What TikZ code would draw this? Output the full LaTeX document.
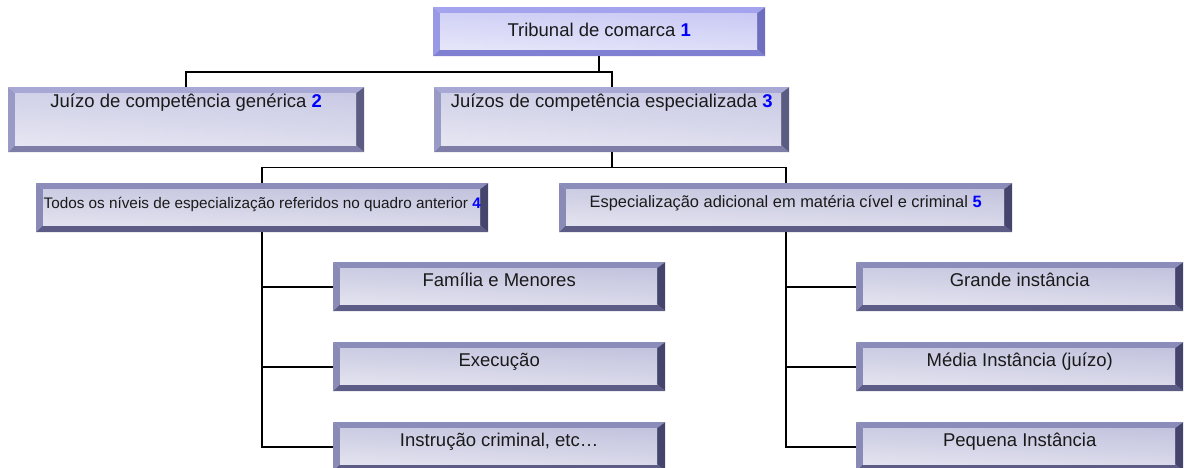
\documentclass[tikz,border=0pt]{standalone}
\usepackage{fontspec}
\setmainfont{Liberation Sans}
\usetikzlibrary{calc}
% variant A: top box (bluish)
\definecolor{aT}{HTML}{A4A4EE}\definecolor{aL}{HTML}{9898E4}\definecolor{aB}{HTML}{8080D2}\definecolor{aR}{HTML}{6E6EBE}\definecolor{aF}{HTML}{BCBCF2}
% variant B: second row
\definecolor{bT}{HTML}{A8A8D4}\definecolor{bL}{HTML}{9A9AC6}\definecolor{bB}{HTML}{7E7EA8}\definecolor{bR}{HTML}{5C5C82}\definecolor{bF}{HTML}{BCBCDE}
% variant C: lower rows
\definecolor{cT}{HTML}{8C8CBA}\definecolor{cL}{HTML}{8A8AB6}\definecolor{cB}{HTML}{5C5C86}\definecolor{cR}{HTML}{44446C}\definecolor{cF}{HTML}{B4B4D6}
\definecolor{txt}{HTML}{1A1A1A}
\newcommand\bevelfill[1]{%
  \coordinate (bNW) at (path picture bounding box.north west);
  \coordinate (bNE) at (path picture bounding box.north east);
  \coordinate (bSW) at (path picture bounding box.south west);
  \coordinate (bSE) at (path picture bounding box.south east);
  \coordinate (iNW) at ($(bNW)+(7pt,-6pt)$);
  \coordinate (iNE) at ($(bNE)+(-8pt,-6pt)$);
  \coordinate (iSW) at ($(bSW)+(7pt,7pt)$);
  \coordinate (iSE) at ($(bSE)+(-8pt,7pt)$);
  \fill[#1T] (bNW) -- (bNE) -- (iNE) -- (iNW) -- cycle;
  \fill[#1L] (bNW) -- (bSW) -- (iSW) -- (iNW) -- cycle;
  \fill[#1B] (bSW) -- (bSE) -- (iSE) -- (iSW) -- cycle;
  \fill[#1R] (bNE) -- (bSE) -- (iSE) -- (iNE) -- cycle;
  \shade[left color=#1F!75!white, middle color=white, right color=#1F] (iNW) rectangle (iSE);
  \shade[top color=#1F!60!white, bottom color=white, opacity=0.5] (iNW) rectangle (iSE);
}
\tikzset{
  bevelbox/.style={fill=white, inner xsep=0pt, inner ysep=0pt, anchor=north west,
    text=txt, path picture={\bevelfill{#1}}},
  lnk/.style={draw=black, line width=1.8pt},
}
\newcommand\num[1]{\textcolor{blue}{\textbf{#1}}}
\newcommand\fsA{\fontsize{18.5}{20}\selectfont}
\begin{document}
\begin{tikzpicture}[x=1pt,y=-1pt]
\useasboundingbox (0,0) rectangle (1185,468);
% level 1
\node[bevelbox=a, minimum width=332pt, text height=29pt, text depth=20pt] (b1) at (433,7) {\fsA Tribunal de comarca \num{1}};
% level 2
\node[bevelbox=b, minimum width=356pt, text height=20pt, text depth=45pt] (b2) at (8,87) {\fsA Juízo de competência genérica \num{2}};
\node[bevelbox=b, minimum width=355pt, text height=20pt, text depth=45pt] (b3) at (434,87) {\fsA Juízos de competência especializada \num{3}};
% level 3
\node[bevelbox=c, minimum width=452pt, text height=25pt, text depth=24pt] (b4) at (36,183) {\fontsize{15.3}{17}\selectfont Todos os níveis de especialização referidos no quadro anterior \num{4}};
\node[bevelbox=c, minimum width=453pt, text height=24pt, text depth=25pt] (b5) at (559,183) {\fontsize{16.4}{18}\selectfont Especialização adicional em matéria cível e criminal \num{5}};
% leaves left
\node[bevelbox=c, minimum width=332pt, text height=24pt, text depth=25pt] (l1) at (333,262) {\fsA Família e Menores};
\node[bevelbox=c, minimum width=332pt, text height=24pt, text depth=25pt] (l2) at (333,342) {\fsA Execução};
\node[bevelbox=c, minimum width=332pt, text height=24pt, text depth=25pt] (l3) at (333,422) {\fsA Instrução criminal, etc…};
% leaves right
\node[bevelbox=c, minimum width=327pt, text height=24pt, text depth=25pt] (r1) at (856,262) {\fsA Grande instância};
\node[bevelbox=c, minimum width=327pt, text height=24pt, text depth=25pt] (r2) at (856,342) {\fsA Média Instância (juízo)};
\node[bevelbox=c, minimum width=327pt, text height=24pt, text depth=25pt] (r3) at (856,422) {\fsA Pequena Instância};
% connectors
\coordinate (j1) at ($(b1.south)+(0,16)$);
\coordinate (j2) at ($(b3.south)+(0,15)$);
\draw[lnk] (b1.south) -- (j1);
\draw[lnk] (b2.north) |- (j1);
\draw[lnk] (b3.north) |- (j1);
\draw[lnk] (b3.south) -- (j2);
\draw[lnk] (b4.north) |- (j2);
\draw[lnk] (b5.north) |- (j2);
\draw[lnk] (b4.south) |- (l3.west);
\draw[lnk] (b4.south |- l1.west) -- (l1.west);
\draw[lnk] (b4.south |- l2.west) -- (l2.west);
\draw[lnk] (b5.south) |- (r3.west);
\draw[lnk] (b5.south |- r1.west) -- (r1.west);
\draw[lnk] (b5.south |- r2.west) -- (r2.west);
\end{tikzpicture}
\end{document}
